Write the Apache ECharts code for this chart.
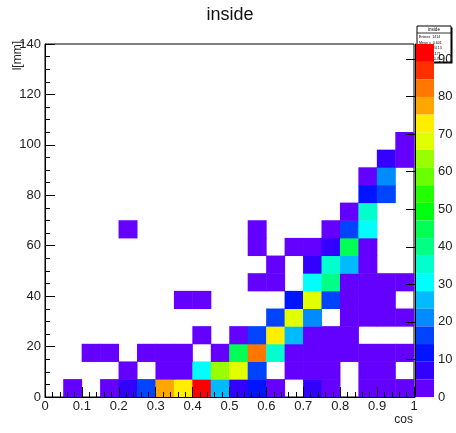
<!DOCTYPE html>
<html><head><meta charset="utf-8">
<script src="https://cdn.jsdelivr.net/npm/echarts@6/dist/echarts.min.js"></script>
<style>html,body{margin:0;padding:0;background:#fff}#c{width:456px;height:433px}</style>
</head><body><div id="c"></div>
<script>
// x bins (cos), 20 bins of width 0.05 — bin centers
const xBins = ['0.025','0.075','0.125','0.175','0.225','0.275','0.325','0.375','0.425','0.475',
               '0.525','0.575','0.625','0.675','0.725','0.775','0.825','0.875','0.925','0.975'];
// y bins (l[mm]), 20 bins of width 7 — lower edges
const yBins = ['0','7','14','21','28','35','42','49','56','63','70','77','84','91','98','105','112','119','126','133'];
// bin contents, one row per y bin (bottom row first), one column per x bin
const row0  = [0,2,0,3,6,16,78,72,93,25,8,11,3,0,7,3,0,2,3,2];
const row1  = [0,0,0,0,1,0,2,3,30,63,68,16,0,2,3,1,0,2,1,0];
const row2  = [0,0,1,1,0,1,2,2,0,2,43,82,35,2,3,1,2,1,3,2];
const row3  = [0,0,0,0,0,0,0,0,1,0,2,16,72,25,3,2,1,0,0,0];
const row4  = [0,0,0,0,0,0,0,0,0,0,0,0,17,68,22,0,2,1,3,1];
const row5  = [0,0,0,0,0,0,0,1,1,0,0,0,0,11,68,15,3,2,1,0];
const row6  = [0,0,0,0,0,0,0,0,0,0,0,1,1,0,30,40,3,2,2,1];
const row7  = [0,0,0,0,0,0,0,0,0,0,0,0,1,0,9,35,25,3,0,0];
const row8  = [0,0,0,0,0,0,0,0,0,0,0,1,0,2,3,7,45,3,0,0];
const row9  = [0,0,0,0,1,0,0,0,0,0,0,1,0,0,0,3,17,30,0,0];
const row10 = [0,0,0,0,0,0,0,0,0,0,0,0,0,0,0,0,2,35,0,0];
const row11 = [0,0,0,0,0,0,0,0,0,0,0,0,0,0,0,0,0,11,16,0];
const row12 = [0,0,0,0,0,0,0,0,0,0,0,0,0,0,0,0,0,3,21,0];
const row13 = [0,0,0,0,0,0,0,0,0,0,0,0,0,0,0,0,0,0,7,3];
const row14 = [0,0,0,0,0,0,0,0,0,0,0,0,0,0,0,0,0,0,0,2];
const row15 = [0,0,0,0,0,0,0,0,0,0,0,0,0,0,0,0,0,0,0,0];
const row16 = [0,0,0,0,0,0,0,0,0,0,0,0,0,0,0,0,0,0,0,0];
const row17 = [0,0,0,0,0,0,0,0,0,0,0,0,0,0,0,0,0,0,0,0];
const row18 = [0,0,0,0,0,0,0,0,0,0,0,0,0,0,0,0,0,0,0,0];
const row19 = [0,0,0,0,0,0,0,0,0,0,0,0,0,0,0,0,0,0,0,0];
const rows = [row0,row1,row2,row3,row4,row5,row6,row7,row8,row9,row10,row11,row12,row13,row14,row15,row16,row17,row18,row19];
// color scale
const zMin = 0, zMax = 94;
const palette = ['#6300ff','#3300ff','#0014ff','#0044ff','#008bff','#00bbff','#00fffc','#00ffcc','#00ff85','#00ff55',
                 '#00ff0e','#22ff00','#69ff00','#99ff00','#e0ff00','#ffee00','#ffa700','#ff7700','#ff3000','#ff0000'];
const titleText = 'inside', xTitle = 'cos', yTitle = 'l[mm]';
const statsLines = ['Entries  1414','Mean x  0.601','Mean y  24.13','RMS x  0.171','RMS y  20.31'];

const data = [];
rows.forEach((r, j) => r.forEach((v, i) => { if (v > 0) data.push([i, j, v]); }));
const step = (zMax - zMin) / palette.length;
const pieces = palette.map((c, k) => k === palette.length - 1
  ? {gte: zMin + k*step, lte: zMax, color: c}
  : {gte: zMin + k*step, lt: zMin + (k+1)*step, color: c});

const FONT = 'Liberation Sans, Arial, Helvetica, sans-serif';
const GL = 45, GT = 44, GW = 369, GH = 353;
const CBL = 415, CBW = 19;

const chart = echarts.init(document.getElementById('c'), null, {renderer: 'canvas'});
chart.setOption({
  backgroundColor: '#fff',
  animation: false,
  grid: [
    {left: GL, top: GT, width: GW, height: GH, show: true, borderColor: '#000', borderWidth: 1, backgroundColor: 'transparent'},
    {left: CBL, top: GT, width: CBW, height: GH, show: false}
  ],
  xAxis: [
    {type: 'category', gridIndex: 0, data: xBins, show: false},
    {type: 'value', gridIndex: 0, min: 0, max: 1, interval: 0.1, position: 'bottom', z: 10,
     axisLine: {show: true, lineStyle: {color: '#000', width: 1}},
     axisTick: {show: true, inside: true, length: 10, lineStyle: {color: '#000'}},
     minorTick: {show: true, splitNumber: 5, length: 5, lineStyle: {color: '#000'}},
     splitLine: {show: false},
     axisLabel: {color: '#222', fontSize: 13, fontFamily: FONT, margin: 3}},
    {type: 'value', gridIndex: 1, min: 0, max: 1, show: false}
  ],
  yAxis: [
    {type: 'category', gridIndex: 0, data: yBins, show: false},
    {type: 'value', gridIndex: 0, min: 0, max: 140, interval: 20, position: 'left', z: 10,
     axisLine: {show: true, lineStyle: {color: '#000', width: 1}},
     axisTick: {show: true, inside: true, length: 10, lineStyle: {color: '#000'}},
     minorTick: {show: true, splitNumber: 4, length: 5, lineStyle: {color: '#000'}},
     splitLine: {show: false},
     axisLabel: {color: '#222', fontSize: 13, fontFamily: FONT, margin: 4}},
    {type: 'value', gridIndex: 1, min: zMin, max: zMax, interval: 10, position: 'right', z: 10,
     axisLine: {show: true, lineStyle: {color: '#000', width: 1}},
     axisTick: {show: true, inside: true, length: 9, lineStyle: {color: '#000'}},
     splitLine: {show: false},
     axisLabel: {color: '#222', fontSize: 13, fontFamily: FONT, margin: 4, showMaxLabel: false}}
  ],
  visualMap: {
    type: 'piecewise', seriesIndex: 0, dimension: 2, pieces: pieces,
    orient: 'vertical', left: CBL, top: GT, itemWidth: CBW, itemHeight: GH / palette.length,
    itemGap: 0, itemSymbol: 'rect', showLabel: false, padding: 0, selectedMode: false, hoverLink: false,
    z: 3
  },
  series: [{
    type: 'heatmap', xAxisIndex: 0, yAxisIndex: 0, data: data,
    emphasis: {disabled: true}, itemStyle: {borderWidth: 0}, progressive: 0
  }],
  graphic: [
    {type: 'text', x: 230, y: 15, style: {text: titleText, font: '18px ' + FONT, fill: '#111', textAlign: 'center', textVerticalAlign: 'middle'}},
    {type: 'text', x: GL + GW - 1, y: 420, style: {text: xTitle, font: '12px ' + FONT, fill: '#222', textAlign: 'right', textVerticalAlign: 'middle'}},
    {type: 'text', x: 18, y: 41, rotation: Math.PI / 2, style: {text: yTitle, font: '12px ' + FONT, fill: '#222', textAlign: 'right', textVerticalAlign: 'middle'}},
    {type: 'group', x: 417, y: 26, z: 100, children: [
      {type: 'rect', shape: {x: 1.5, y: 1.5, width: 34, height: 36}, style: {fill: '#000'}},
      {type: 'rect', shape: {x: 0, y: 0, width: 34, height: 36}, style: {fill: '#fff', stroke: '#000', lineWidth: 1}},
      {type: 'line', shape: {x1: 0, y1: 7, x2: 34, y2: 7}, style: {stroke: '#000', lineWidth: 0.8}},
      {type: 'text', x: 17, y: 3.5, style: {text: titleText, font: '4.5px ' + FONT, fill: '#000', textAlign: 'center', textVerticalAlign: 'middle'}},
      {type: 'text', x: 2, y: 11, style: {text: statsLines[0], font: '3.6px ' + FONT, fill: '#000', textVerticalAlign: 'middle'}},
      {type: 'text', x: 2, y: 16.5, style: {text: statsLines[1], font: '3.6px ' + FONT, fill: '#000', textVerticalAlign: 'middle'}},
      {type: 'text', x: 2, y: 22, style: {text: statsLines[2], font: '3.6px ' + FONT, fill: '#000', textVerticalAlign: 'middle'}},
      {type: 'text', x: 2, y: 27.5, style: {text: statsLines[3], font: '3.6px ' + FONT, fill: '#000', textVerticalAlign: 'middle'}},
      {type: 'text', x: 2, y: 33, style: {text: statsLines[4], font: '3.6px ' + FONT, fill: '#000', textVerticalAlign: 'middle'}}
    ]}
  ]
});
</script>
</body></html>
